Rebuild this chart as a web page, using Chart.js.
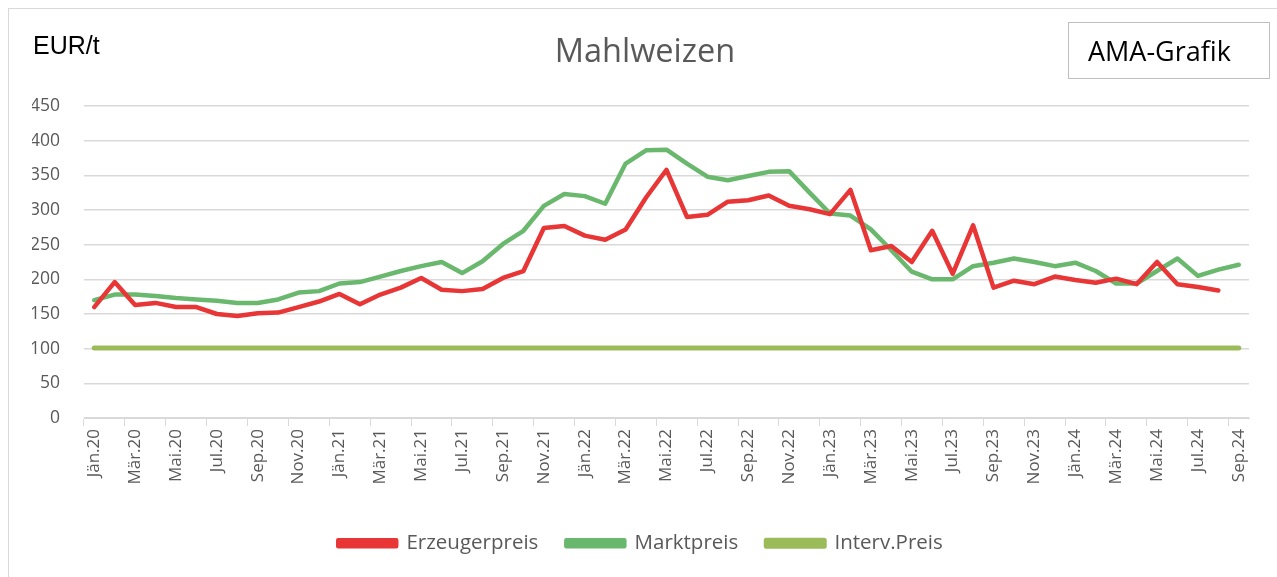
<!DOCTYPE html>
<html>
<head>
<meta charset="utf-8">
<script src="https://cdn.jsdelivr.net/npm/chart.js@4"></script>
<style>
  html, body { margin: 0; padding: 0; background: #fff; }
  body { width: 1277px; height: 577px; position: relative; overflow: hidden; font-family: "Open Sans", sans-serif; }
  #frame { position: absolute; left: 8px; top: 8px; width: 1280px; height: 580px; border: 1px solid #d9d9d9; box-sizing: border-box; }
  #unit { position: absolute; left: 33px; top: 31px; font-family: "Liberation Sans", Arial, sans-serif; font-size: 25px; line-height: 1.149; color: #000; }
  #title { position: absolute; left: 0; width: 1290px; top: 28px; text-align: center; font-size: 32.5px; line-height: 1.362; color: #595959; }
  #ama { position: absolute; left: 1068px; top: 22px; width: 202px; height: 57px; border: 1px solid #bfbfbf; box-sizing: border-box; }
  #ama span { position: absolute; left: 19px; top: 10px; font-size: 27px; line-height: 1.362; color: #000; white-space: nowrap; }
  #wrap { position: absolute; left: 0; top: 0; width: 1277px; height: 577px; }
</style>
</head>
<body>
<div id="frame"></div>
<div id="wrap"><canvas id="chart"></canvas></div>
<div id="unit">EUR/t</div>
<div id="title">Mahlweizen</div>
<div id="ama"><span>AMA-Grafik</span></div>
<script>
// Monate Jän.20 bis Sep.24
const monthNames = ['Jän', 'Feb', 'Mär', 'Apr', 'Mai', 'Jun', 'Jul', 'Aug', 'Sep', 'Okt', 'Nov', 'Dez'];
const years = ['20', '21', '22', '23', '24'];
const lastMonthIndex = 8; // Sep.24

const categories = [];
years.forEach((y, yi) => {
    monthNames.forEach((m, mi) => {
        if (yi === years.length - 1 && mi > lastMonthIndex) return;
        categories.push(m + '.' + y);
    });
});

const erzeugerpreis = [
    160, 196, 163, 166, 160, 160, 150, 147, 151, 152, 160, 168,
    179, 164, 178, 188, 202, 185, 183, 186, 202, 212, 274, 277,
    263, 257, 272, 318, 358, 290, 293, 312, 314, 321, 306, 301,
    294, 329, 242, 248, 225, 270, 208, 278, 188, 198, 193, 204,
    199, 195, 201, 193, 225, 193, 189, 184, null
];

const marktpreis = [
    170, 178, 178, 176, 173, 171, 169, 166, 166, 171, 181, 183,
    194, 196, 204, 212, 219, 225, 209, 226, 251, 270, 306, 323,
    320, 309, 367, 386, 387, 367, 348, 343, 349, 355, 356, 325,
    295, 292, 272, 242, 211, 200, 200, 219, 224, 230, 225, 219,
    224, 212, 194, 194, 212, 230, 205, 214, 221
];

const intervPreis = categories.map(() => 101);

const yTicks = [0, 50, 100, 150, 200, 250, 300, 350, 400, 450];

const red = '#e83535';
const green = '#6ab86e';
const olive = '#9bbb59';
const textGray = '#595959';
const gridGray = '#d9d9d9';

function lineSet(label, data, color, width) {
    return {
        label: label,
        data: data,
        borderColor: color,
        backgroundColor: color,
        borderWidth: width,
        pointRadius: 0,
        pointHoverRadius: 0,
        tension: 0,
        borderCapStyle: 'round',
        borderJoinStyle: 'round',
        spanGaps: false,
        fill: false
    };
}

new Chart(document.getElementById('chart'), {
    type: 'line',
    data: {
        labels: categories,
        datasets: [
            lineSet('Erzeugerpreis', erzeugerpreis, red, 4.5),
            lineSet('Marktpreis', marktpreis, green, 4.5),
            lineSet('Interv.Preis', intervPreis, olive, 5)
        ]
    },
    options: {
        responsive: true,
        maintainAspectRatio: false,
        animation: false,
        layout: { padding: { left: 32, right: 28, top: 106, bottom: 13.5 } },
        plugins: {
            title: { display: false },
            tooltip: { enabled: false },
            legend: {
                position: 'bottom',
                labels: {
                    color: textGray,
                    font: { family: '"Open Sans", sans-serif', size: 20.5 },
                    boxWidth: 58,
                    boxHeight: 6,
                    padding: 28
                }
            }
        },
        scales: {
            x: {
                offset: true,
                afterFit: (axis) => { axis.height = 87; },
                border: { display: true, color: gridGray, width: 1 },
                grid: {
                    offset: true,
                    drawOnChartArea: false,
                    drawTicks: true,
                    tickLength: 8,
                    color: (ctx) => (ctx.index % 2 === 0 ? gridGray : 'rgba(0,0,0,0)')
                },
                ticks: {
                    autoSkip: false,
                    maxRotation: 90,
                    minRotation: 90,
                    padding: 3,
                    color: textGray,
                    font: { family: '"Open Sans", sans-serif', size: 17 },
                    callback: function (value, index) {
                        return index % 2 === 0 ? this.getLabelForValue(value) : '';
                    }
                }
            },
            y: {
                min: 0,
                max: 450,
                afterBuildTicks: (axis) => { axis.ticks = yTicks.map(v => ({ value: v })); },
                afterFit: (axis) => { axis.width = 52; },
                border: { display: false },
                grid: { color: gridGray, lineWidth: 1.5, drawTicks: false },
                ticks: {
                    padding: 24,
                    color: textGray,
                    font: { family: '"Open Sans", sans-serif', size: 17.5 }
                }
            }
        }
    }
});
</script>
</body>
</html>
